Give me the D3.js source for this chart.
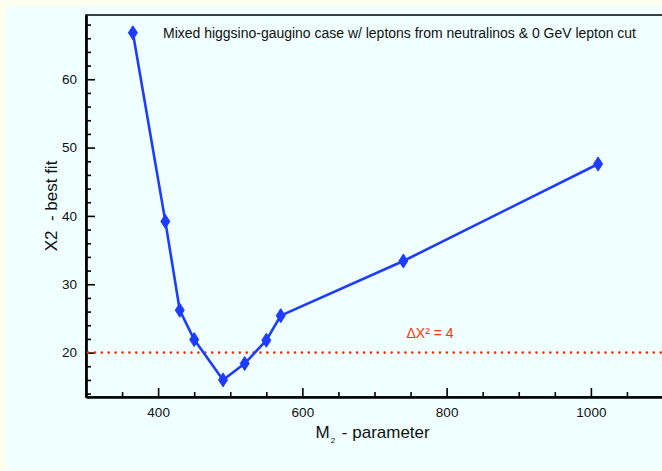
<!DOCTYPE html>
<html>
<head>
<meta charset="utf-8">
<script src="https://cdn.jsdelivr.net/npm/d3@7"></script>
<style>
  html, body { margin: 0; padding: 0; background: #fffff0; overflow: hidden; }
  text { font-family: "Liberation Sans", Arial, Helvetica, sans-serif; }
</style>
</head>
<body>
<svg id="chart" width="662" height="471"></svg>
<script>
// ---- data ----
const m2Values   = [365, 410, 430, 450, 490, 520, 550, 570, 740, 1010];
const chi2Values = [66.8, 39.2, 26.2, 21.9, 16.0, 18.4, 21.8, 25.4, 33.4, 47.6];
const xMajorTicks = [400, 600, 800, 1000];
const yMajorTicks = [20, 30, 40, 50, 60];
const xMinorTicks = [350, 450, 500, 550, 650, 700, 750, 850, 900, 950, 1050];
const yMinorTicks = [14, 16, 18, 22, 24, 26, 28, 32, 34, 36, 38, 42, 44, 46, 48, 52, 54, 56, 58, 62, 64, 66, 68];
const thresholdValue = 20;
const titleText = "Mixed higgsino-gaugino case w/ leptons from neutralinos & 0 GeV lepton cut";
const thresholdLabel = "\u0394X\u00B2 = 4";

// ---- layout ----
const svg = d3.select("#chart");
const W = 662, H = 471;
const plot = { left: 86, top: 15, right: 663, bottom: 397 };

svg.append("rect").attr("x", 0).attr("y", 0).attr("width", W).attr("height", H).attr("fill", "#fffff0");
svg.append("rect").attr("x", 6).attr("y", 6).attr("width", W - 6).attr("height", H - 7).attr("fill", "#f0ffff");

const x = d3.scaleLinear().domain([300, 1100]).range([plot.left, plot.right]);
const y = d3.scaleLinear().domain([13.5, 69.4]).range([plot.bottom, plot.top]);

// frame
svg.append("rect")
  .attr("x", plot.left).attr("y", plot.top)
  .attr("width", plot.right - plot.left).attr("height", plot.bottom - plot.top)
  .attr("fill", "none").attr("stroke", "#000").attr("stroke-width", 1.5);

// x axis
const gx = svg.append("g").attr("transform", `translate(0,${plot.bottom})`);
gx.call(d3.axisBottom(x).tickValues(xMinorTicks).tickSize(-5).tickSizeOuter(0).tickFormat(""));
gx.append("g").call(d3.axisBottom(x).tickValues(xMajorTicks).tickSize(-9).tickSizeOuter(0).tickPadding(10).tickFormat(d3.format("d")));
gx.selectAll(".domain").attr("stroke", "#000").attr("stroke-width", 2.2);
gx.selectAll(".tick line").attr("stroke", "#000").attr("stroke-width", 1.6);
gx.selectAll("text").attr("font-size", 13.5).attr("fill", "#111").style("font-family", "'Liberation Sans', Arial, sans-serif");

// y axis
const gy = svg.append("g").attr("transform", `translate(${plot.left},0)`);
gy.call(d3.axisLeft(y).tickValues(yMinorTicks).tickSize(-5).tickSizeOuter(0).tickFormat(""));
gy.append("g").call(d3.axisLeft(y).tickValues(yMajorTicks).tickSize(-9).tickSizeOuter(0).tickPadding(9).tickFormat(d3.format("d")));
gy.selectAll(".domain").attr("stroke", "#000").attr("stroke-width", 2.2);
gy.selectAll(".tick line").attr("stroke", "#000").attr("stroke-width", 1.6);
gy.selectAll("text").attr("font-size", 13.5).attr("fill", "#111").style("font-family", "'Liberation Sans', Arial, sans-serif");

// threshold line
svg.append("line")
  .attr("x1", x(300) + 2).attr("x2", x(1100))
  .attr("y1", y(thresholdValue)).attr("y2", y(thresholdValue))
  .attr("stroke", "#ff2a00").attr("stroke-width", 2.6)
  .attr("stroke-linecap", "round").attr("stroke-dasharray", "0,6.9");

svg.append("text")
  .attr("x", 406.5).attr("y", 338)
  .attr("font-size", 14).attr("fill", "#ff3300")
  .text(thresholdLabel);

// data line
const pts = m2Values.map((v, i) => [v, chi2Values[i]]);
svg.append("path")
  .datum(pts)
  .attr("fill", "none").attr("stroke", "#1e3cff").attr("stroke-width", 2.6)
  .attr("stroke-linejoin", "round")
  .attr("d", d3.line().x(d => x(d[0])).y(d => y(d[1])));

// diamond markers
const diamond = "M0,-7L4.5,0L0,7L-4.5,0Z";
svg.append("g").selectAll("path")
  .data(pts).join("path")
  .attr("d", diamond)
  .attr("transform", d => `translate(${x(d[0])},${y(d[1])})`)
  .attr("fill", "#1e3cff").attr("stroke", "#1e3cff").attr("stroke-width", 1);

// annotation
svg.append("text")
  .attr("x", 163).attr("y", 37.5)
  .attr("font-size", 14).attr("fill", "#111")
  .attr("textLength", 473).attr("lengthAdjust", "spacing")
  .text(titleText);

// x axis title
const xt = svg.append("text")
  .attr("x", 315.5).attr("y", 437.5)
  .attr("font-size", 17).attr("fill", "#111");
xt.append("tspan").text("M");
xt.append("tspan").attr("font-size", 8).attr("dy", 5).attr("dx", 1).text("2");
xt.append("tspan").attr("dy", -5).attr("dx", 2).text(" - parameter");

// y axis title
svg.append("text")
  .attr("transform", `translate(57,${(plot.top + plot.bottom) / 2}) rotate(-90)`)
  .attr("text-anchor", "middle")
  .attr("font-size", 17).attr("fill", "#111")
  .style("white-space", "pre")
  .attr("xml:space", "preserve")
  .text("X2  - best fit");
</script>
</body>
</html>
